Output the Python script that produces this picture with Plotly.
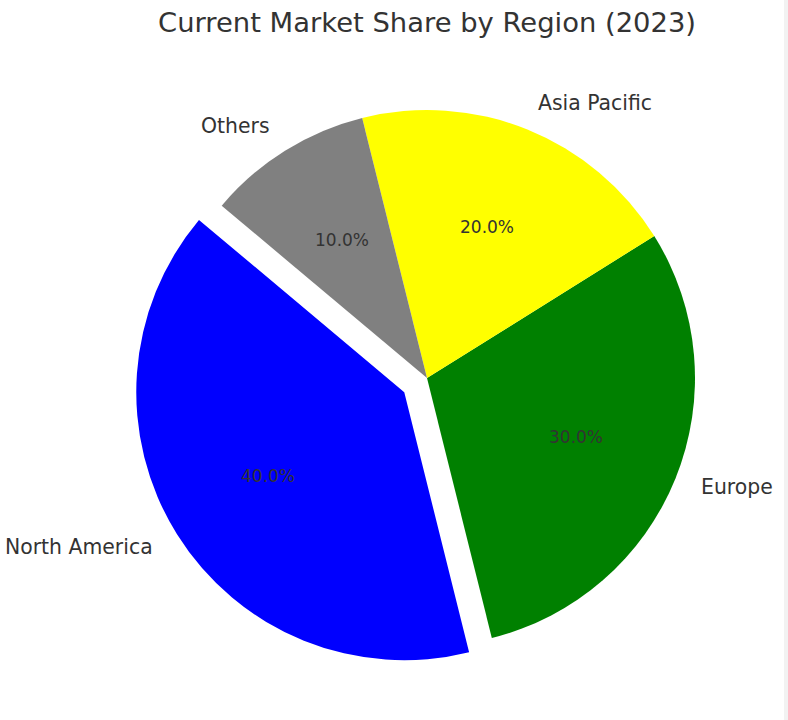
import math
import plotly.graph_objects as go

regions = ["North America", "Europe", "Asia Pacific", "Others"]
shares = [40, 30, 20, 10]
colors = ["#0000FF", "#008000", "#FFFF00", "#808080"]
explode = [0.1, 0, 0, 0]
title_text = "Current Market Share by Region (2023)"

W, H = 788, 720
start_angle = 140  # degrees, counterclockwise from 3 o'clock (matplotlib style)

# pie geometry in pixels
cx_px, cy_px, r_px = 427, 378, 268
half = r_px * (1 + max(explode))
dom_x = [(cx_px - half) / W, (cx_px + half) / W]
dom_y = [(H - (cy_px + half)) / H, (H - (cy_px - half)) / H]

total = sum(shares)
# plotly (counterclockwise) puts the first slice ending at the rotation angle
first_end = start_angle + 360 * shares[0] / total
rotation = 90 - first_end
while rotation < -360:
    rotation += 360

fig = go.Figure(go.Pie(
    labels=regions,
    values=shares,
    marker=dict(colors=colors, line=dict(width=0)),
    pull=explode,
    sort=False,
    direction="counterclockwise",
    rotation=rotation,
    textinfo="none",
    hoverinfo="label+percent",
    domain=dict(x=dom_x, y=dom_y),
    showlegend=False,
))

text_dy = -1.5  # small vertical nudge for text baseline alignment
annotations = []
theta = start_angle
for lab, v, ex in zip(regions, shares, explode):
    span = 360 * v / total
    mid = math.radians(theta + span / 2)
    ox = cx_px + ex * r_px * math.cos(mid)
    oy = cy_px - ex * r_px * math.sin(mid)
    lx = ox + 1.1 * r_px * math.cos(mid)
    ly = oy - 1.1 * r_px * math.sin(mid) + text_dy
    annotations.append(dict(
        x=(lx + (1 if math.cos(mid) < 0 else -1)) / W, y=1 - ly / H,
        xref="paper", yref="paper",
        text=lab, showarrow=False,
        xanchor="left" if math.cos(mid) > 0 else "right", yanchor="middle",
        font=dict(family="DejaVu Sans", size=20.4, color="#333333"),
    ))
    px_ = ox + 0.6 * r_px * math.cos(mid)
    py_ = oy - 0.6 * r_px * math.sin(mid) + text_dy
    annotations.append(dict(
        x=px_ / W, y=1 - py_ / H, xref="paper", yref="paper",
        text=f"{100 * v / total:.1f}%", showarrow=False,
        xanchor="center", yanchor="middle",
        font=dict(family="DejaVu Sans", size=17, color="#333333"),
    ))
    theta += span

annotations.append(dict(
    x=cx_px / W, y=1 - 22 / H, xref="paper", yref="paper",
    text=title_text, showarrow=False, xanchor="center", yanchor="middle",
    font=dict(family="DejaVu Sans", size=27.4, color="#333333"),
))

fig.update_layout(
    width=W, height=H,
    margin=dict(l=0, r=0, t=0, b=0),
    paper_bgcolor="white", plot_bgcolor="white",
    annotations=annotations,
    shapes=[dict(type="rect", xref="paper", yref="paper", x0=784 / W, x1=1, y0=0, y1=1,
                 fillcolor="#f2f2f2", line=dict(width=0), layer="below")],
)

fig.write_html(
    "out.html",
    config={"displayModeBar": False},
    post_script="document.body.style.margin='0';document.body.style.overflow='hidden';",
)
